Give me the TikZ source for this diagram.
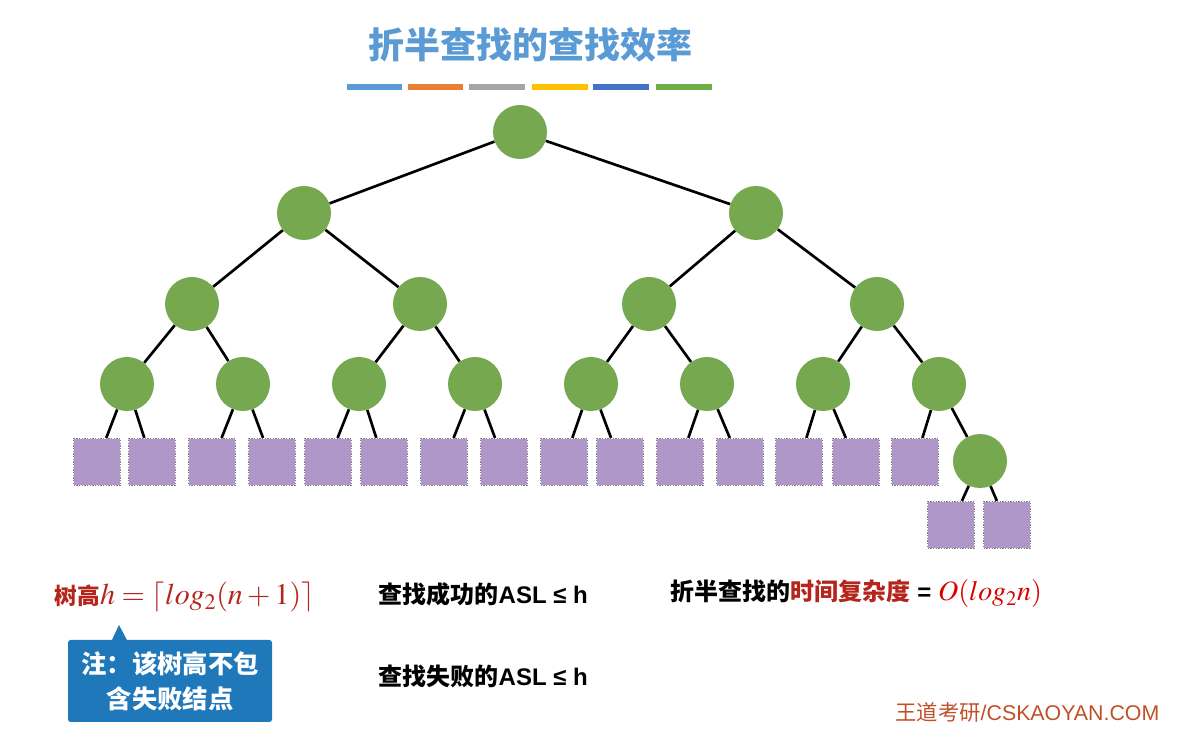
\documentclass[tikz,border=0pt]{standalone}
\usepackage{mathptmx}
\usepackage{fontspec}
\setmainfont{Liberation Sans}
\newfontfamily\cjk{Noto Sans CJK SC}

\definecolor{titleblue}{HTML}{5B9BD5}
\definecolor{treegreen}{HTML}{76A94F}
\definecolor{leafpurple}{HTML}{B097C9}
\definecolor{darkred}{HTML}{B5251C}
\definecolor{noteblue}{HTML}{1F78B9}
\definecolor{brandred}{HTML}{C0502A}
\definecolor{barorange}{HTML}{ED7D31}
\definecolor{bargray}{HTML}{A5A5A5}
\definecolor{baryellow}{HTML}{FFC000}
\definecolor{barblue}{HTML}{4472C4}
\definecolor{bargreen}{HTML}{70AD47}

\tikzset{
  inner/.style={circle, fill=treegreen, minimum size=40.5pt, inner sep=0pt},
  leaf/.style={rectangle, fill=leafpurple, draw=gray, line width=1.1pt,
    dash pattern=on 1pt off 1pt, minimum size=35pt, inner sep=0pt},
  edge/.style={line width=2pt, black},
  bar/.style={line width=4.5pt}
}

\begin{document}
\begin{tikzpicture}[x=0.75pt,y=0.75pt,yscale=-1,xscale=1]
\useasboundingbox (0,0) rectangle (1179,737);

% title
\node (title) at (530,45) {\cjk\bfseries\fontsize{27}{30}\selectfont\color{titleblue}折半查找的查找效率};
\draw[bar, titleblue] (347,87) -- (402,87);
\draw[bar, barorange] (408,87) -- (463,87);
\draw[bar, bargray] (469,87) -- (525,87);
\draw[bar, baryellow] (532,87) -- (588,87);
\draw[bar, barblue] (593,87) -- (649,87);
\draw[bar, bargreen] (656,87) -- (712,87);

% tree
\node[inner] (r) at (520,132) {};
\node[inner] (a1) at (304,213) {};
\node[inner] (a2) at (756,213) {};
\node[inner] (b1) at (192,304) {};
\node[inner] (b2) at (420,304) {};
\node[inner] (b3) at (649,304) {};
\node[inner] (b4) at (877,304) {};
\node[inner] (c1) at (127,384) {};
\node[inner] (c2) at (243,384) {};
\node[inner] (c3) at (359,384) {};
\node[inner] (c4) at (475,384) {};
\node[inner] (c5) at (591,384) {};
\node[inner] (c6) at (707,384) {};
\node[inner] (c7) at (823,384) {};
\node[inner] (c8) at (939,384) {};
\node[inner] (d1) at (980,461) {};

\foreach \x [count=\i] in {97,152,212,272,328,384,444,504,564,620,680,740,799,856,915}
  \node[leaf] (l\i) at (\x,462) {};
\node[leaf] (l16) at (951,525) {};
\node[leaf] (l17) at (1007,525) {};

\draw[edge] (r) -- (a1);
\draw[edge] (r) -- (a2);
\draw[edge] (a1) -- (b1);
\draw[edge] (a1) -- (b2);
\draw[edge] (a2) -- (b3);
\draw[edge] (a2) -- (b4);
\draw[edge] (b1) -- (c1);
\draw[edge] (b1) -- (c2);
\draw[edge] (b2) -- (c3);
\draw[edge] (b2) -- (c4);
\draw[edge] (b3) -- (c5);
\draw[edge] (b3) -- (c6);
\draw[edge] (b4) -- (c7);
\draw[edge] (b4) -- (c8);
\foreach \c/\u/\v in {1/1/2, 2/3/4, 3/5/6, 4/7/8, 5/9/10, 6/11/12, 7/13/14}{
  \draw[edge] (c\c) -- (l\u);
  \draw[edge] (c\c) -- (l\v);
}
\draw[edge] (c8) -- (l15);
\draw[edge] (c8) -- (d1);
\draw[edge] (d1) -- (l16);
\draw[edge] (d1) -- (l17);

% formulas
\node[anchor=west, text=darkred] (height) at (50,597)
  {{\cjk\bfseries\fontsize{17}{19}\selectfont 树高}\fontsize{22.5}{25}\selectfont$h=\left\lceil log_2(n+1)\right\rceil$};
\node[rectangle, rounded corners=2pt, fill=noteblue, text=white, align=center,
  minimum width=153pt, minimum height=61.5pt, inner sep=0pt,
  font=\cjk\bfseries\fontsize{19}{26}\selectfont] (note) at (170,681)
  {注：该树高不包\\含失败结点};
\fill[noteblue] (111,642) -- (119,625) -- (128,642) -- cycle;

\node[anchor=west] (succ) at (374,594)
  {{\cjk\bfseries\fontsize{18}{20}\selectfont 查找成功的}{\bfseries\fontsize{18}{20}\selectfont ASL ≤ h}};
\node[anchor=west] (fail) at (374,676)
  {{\cjk\bfseries\fontsize{18}{20}\selectfont 查找失败的}{\bfseries\fontsize{18}{20}\selectfont ASL ≤ h}};
\node[anchor=west] (cost) at (666,594)
  {{\cjk\bfseries\fontsize{18}{20}\selectfont 折半查找的\textcolor{darkred}{时间复杂度}}%
   {\bfseries\fontsize{18}{20}\selectfont\ =\ }{\color{red!85!black}\fontsize{21}{23}\selectfont$O(log_2n)$}};

\node[anchor=east, text=brandred] (brand) at (1164,712)
  {{\cjk\fontsize{16}{18}\selectfont 王道考研}\fontsize{16}{18}\selectfont/CSKAOYAN.COM};
\end{tikzpicture}
\end{document}
